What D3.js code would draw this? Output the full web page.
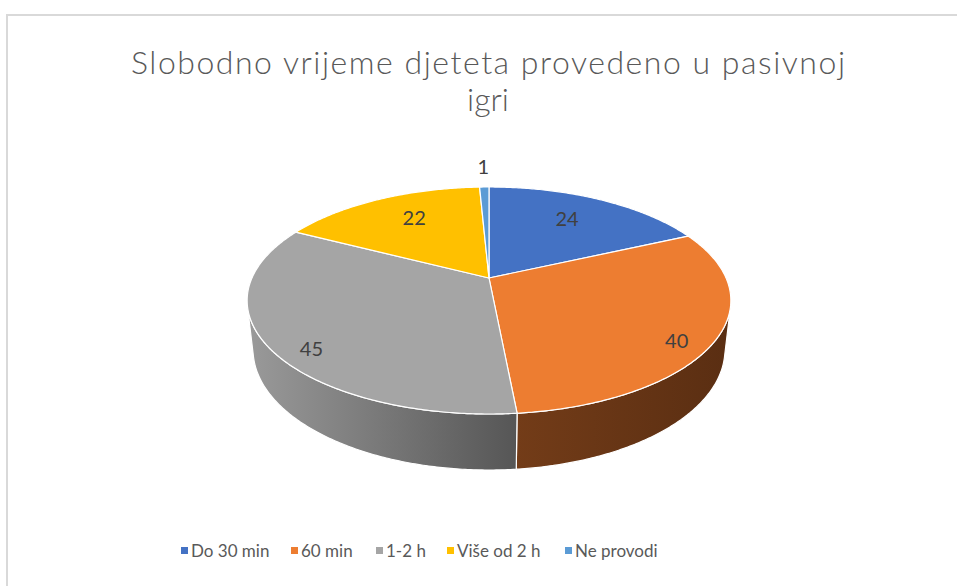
<!DOCTYPE html>
<html>
<head>
<meta charset="utf-8">
<script src="https://cdn.jsdelivr.net/npm/d3@7/dist/d3.min.js"></script>
<style>
  html, body { margin: 0; padding: 0; background: #ffffff; }
  svg { display: block; }
</style>
</head>
<body>
<svg id="chart" width="957" height="586"></svg>
<script>
// ---- data ----
const title = ["Slobodno vrijeme djeteta provedeno u pasivnoj", "igri"];
const categories = ["Do 30 min", "60 min", "1-2 h", "Više od 2 h", "Ne provodi"];
const values = [24, 40, 45, 22, 1];
const topColors = ["#4472C4", "#ED7D31", "#A5A5A5", "#FFC000", "#5B9BD5"];
const wallColors = [["#2c4a80", "#233b66"], ["#733c18", "#5a2e12"], ["#9a9a9a", "#565656"], ["#a67c00", "#8a6700"], ["#3b6a94", "#2f5578"]];

// ---- layout ----
const W = 957, H = 586;
const svg = d3.select("#chart");
const FONT = "Lato, 'Open Sans', 'Liberation Sans', sans-serif";

// chart frame
svg.append("rect").attr("x", 7).attr("y", 15).attr("width", 980).attr("height", 600)
  .attr("fill", "#ffffff").attr("stroke", "#d9d9d9").attr("stroke-width", 2);

// 3D perspective projection of the pie
const cx = 489, cy = 278, F = 1062, Dcam = 4.48, sa = 0.46, ca = Math.sqrt(1 - sa * sa), thick = 0.2354;
function proj(X, Yw, Z) {
  const depth = Dcam + Z * ca - Yw * sa;
  const up = Yw * ca + Z * sa;
  return [cx + F * X / depth, cy - F * up / depth];
}
function rim(a, r, yw) { return proj(r * Math.sin(a), yw, r * Math.cos(a)); }

const pie = d3.pie().sort(null).startAngle(0).endAngle(2 * Math.PI);
const arcs = pie(values);

const defs = svg.append("defs");
const gPie = svg.append("g");

// visible outer wall range
const vLim = Math.acos(-1 / (Dcam * ca));
const v0 = vLim, v1 = 2 * Math.PI - vLim;

function arcPts(a0, a1, yw) {
  const n = Math.max(2, Math.ceil((a1 - a0) / 0.01));
  const pts = [];
  for (let i = 0; i <= n; i++) pts.push(rim(a0 + (a1 - a0) * i / n, 1, yw));
  return pts;
}

// walls
arcs.forEach((d, i) => {
  const a = Math.max(d.startAngle, v0), b = Math.min(d.endAngle, v1);
  if (b <= a) return;
  const top = arcPts(a, b, 0);
  const bot = arcPts(a, b, -thick).reverse();
  const pts = top.concat(bot);
  const xs = pts.map(p => p[0]);
  const gid = "wall" + i;
  const lg = defs.append("linearGradient").attr("id", gid).attr("gradientUnits", "userSpaceOnUse")
    .attr("x1", d3.min(xs)).attr("x2", d3.max(xs)).attr("y1", 0).attr("y2", 0);
  lg.append("stop").attr("offset", 0).attr("stop-color", wallColors[i][0]);
  lg.append("stop").attr("offset", 1).attr("stop-color", wallColors[i][1]);
  gPie.append("path").attr("d", d3.line()(pts) + "Z")
    .attr("fill", `url(#${gid})`).attr("stroke", "#ffffff").attr("stroke-width", 1.2)
    .attr("stroke-linejoin", "round");
});

// top faces
arcs.forEach((d, i) => {
  const pts = [proj(0, 0, 0)].concat(arcPts(d.startAngle, d.endAngle, 0));
  gPie.append("path").attr("d", d3.line()(pts) + "Z")
    .attr("fill", topColors[i]).attr("stroke", "#ffffff").attr("stroke-width", 1.2)
    .attr("stroke-linejoin", "round");
});

// data labels
const labelR = [0.71, 0.88, 0.88, 0.71, 1.28];
const labelShift = [-1.4, 6.2, -7, 2.8, 0].map(v => v * Math.PI / 180);
arcs.forEach((d, i) => {
  const mid = (d.startAngle + d.endAngle) / 2 + labelShift[i];
  const p = rim(mid, labelR[i], 0);
  svg.append("text").attr("x", p[0]).attr("y", p[1]).attr("dy", "0.35em")
    .attr("text-anchor", "middle").attr("fill", "#404040")
    .attr("font-family", FONT).attr("font-size", 20).text(values[i]);
});

// title
svg.append("text").attr("x", 488).attr("y", 74).attr("text-anchor", "middle")
  .attr("fill", "#595959").attr("font-family", FONT).attr("font-weight", 300).attr("font-size", 32)
  .attr("textLength", 714).attr("lengthAdjust", "spacing").text(title[0]);
svg.append("text").attr("x", 488).attr("y", 111).attr("text-anchor", "middle")
  .attr("fill", "#595959").attr("font-family", FONT).attr("font-weight", 300).attr("font-size", 32)
  .text(title[1]);

// legend
const legendX = [181, 291, 376, 447, 565];
const lg = svg.append("g");
categories.forEach((c, i) => {
  lg.append("rect").attr("x", legendX[i]).attr("y", 547).attr("width", 7).attr("height", 7).attr("fill", topColors[i]);
  lg.append("text").attr("x", legendX[i] + 10).attr("y", 551).attr("dy", "0.35em")
    .attr("fill", "#595959").attr("font-family", FONT).attr("font-size", 17).text(c);
});
</script>
</body>
</html>
